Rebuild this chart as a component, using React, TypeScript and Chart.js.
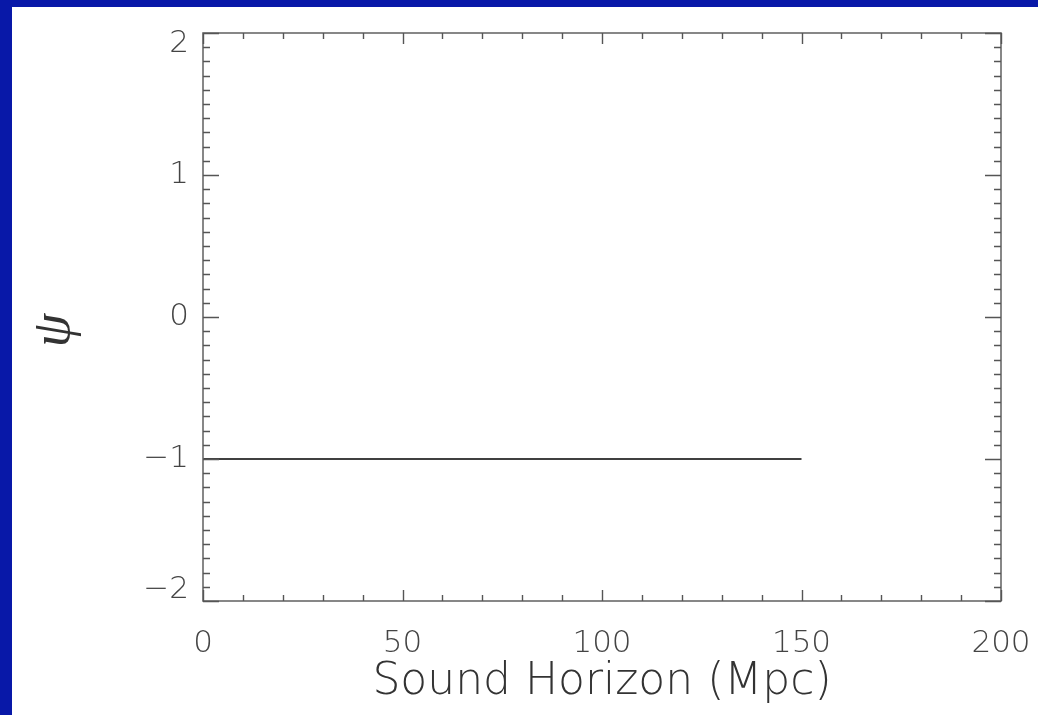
import React, { useEffect, useRef } from "react";
import { Chart, registerables } from "chart.js";

Chart.register(...registerables);

// Data
const soundHorizon: number[] = [0, 150];
const psiValues: number[] = [-1, -1];

// Axis ticks
const xMajorTicks: number[] = [0, 50, 100, 150, 200];
const xMinorStep = 10;
const yMajorTicks: number[] = [-2, -1, 0, 1, 2];
const yMinorStep = 0.1;
const yTickLabels: Record<string, string[] | string> = {
  "2": ["", "2"],
  "1": "1",
  "0": "0",
  "-1": "\u22121",
  "-2": ["\u22122", ""],
};

const xTitle = "Sound Horizon (Mpc)";
const yTitle = "\u03c8\u00a0\u00a0";

const W = 1038;
const H = 715;
const BLUE = "#0818a8";
const FONT = "'DejaVu Sans', sans-serif";

const framePlugin = {
  id: "frame",
  beforeDraw(chart: any) {
    const { ctx } = chart;
    ctx.save();
    ctx.fillStyle = BLUE;
    ctx.fillRect(0, 0, W, H);
    ctx.fillStyle = "#ffffff";
    ctx.fillRect(12, 7, W - 12, H - 7);
    ctx.restore();
  },
  afterDatasetsDraw(chart: any) {
    const { ctx, chartArea, scales } = chart;
    const { left, right, top, bottom } = chartArea;
    const xs = scales.x;
    const ys = scales.y;
    ctx.save();
    ctx.strokeStyle = "#6a6a6a";
    ctx.lineWidth = 1.6;
    ctx.strokeRect(left, top, right - left, bottom - top);
    ctx.strokeStyle = "#555555";
    ctx.lineWidth = 1.4;
    ctx.beginPath();
    for (let v = xs.min; v <= xs.max + 1e-9; v += xMinorStep) {
      const major = xMajorTicks.some((m) => Math.abs(m - v) < 1e-6);
      const len = major ? 11 : 6;
      const px = Math.round(xs.getPixelForValue(v)) + 0.5;
      ctx.moveTo(px, bottom);
      ctx.lineTo(px, bottom - len);
      ctx.moveTo(px, top);
      ctx.lineTo(px, top + len);
    }
    const n = Math.round((ys.max - ys.min) / yMinorStep);
    for (let i = 0; i <= n; i++) {
      const v = ys.min + i * yMinorStep;
      const major = yMajorTicks.some((m) => Math.abs(m - v) < 1e-6);
      const len = major ? 16 : 7;
      const py = Math.round(ys.getPixelForValue(v)) + 0.5;
      ctx.moveTo(left, py);
      ctx.lineTo(left + len, py);
      ctx.moveTo(right, py);
      ctx.lineTo(right - len, py);
    }
    ctx.stroke();
    ctx.restore();
  },
};

export default function App() {
  const ref = useRef<HTMLCanvasElement | null>(null);
  useEffect(() => {
    if (!ref.current) return;
    const chart = new Chart(ref.current, {
      type: "scatter",
      data: {
        datasets: [
          {
            data: soundHorizon.map((x, i) => ({ x, y: psiValues[i] })),
            showLine: true,
            borderColor: "#000000",
            borderWidth: 1.6,
            pointRadius: 0,
            fill: false,
          },
        ],
      },
      options: {
        responsive: false,
        animation: false,
        layout: { padding: { top: 33, right: 37, left: 0, bottom: 0 } },
        plugins: {
          legend: { display: false },
          tooltip: { enabled: false },
        },
        scales: {
          x: {
            type: "linear",
            min: 0,
            max: 200,
            afterBuildTicks: (s: any) => {
              s.ticks = xMajorTicks.map((v) => ({ value: v }));
            },
            afterFit: (s: any) => {
              s.height = 114;
              s.paddingLeft = 0;
              s.paddingRight = 0;
            },
            grid: { display: false },
            border: { display: false },
            ticks: {
              color: "#444444",
              font: { family: FONT, size: 31, weight: "200" as any },
              padding: 16,
              maxRotation: 0,
              autoSkip: false,
            },
            title: {
              display: true,
              text: xTitle,
              color: "#333333",
              font: { family: FONT, size: 44, weight: "200" as any },
              padding: { top: 0, bottom: 6 },
            },
          },
          y: {
            type: "linear",
            min: -2,
            max: 2,
            afterBuildTicks: (s: any) => {
              s.ticks = yMajorTicks.map((v) => ({ value: v }));
            },
            afterFit: (s: any) => {
              s.width = 203;
              s.paddingTop = 0;
              s.paddingBottom = 0;
            },
            grid: { display: false },
            border: { display: false },
            ticks: {
              color: "#444444",
              font: { family: FONT, size: 31, weight: "200" as any, lineHeight: 0.7 },
              padding: 6,
              autoSkip: false,
              callback: (v: any) => yTickLabels[String(v)] ?? String(v),
            },
            title: {
              display: true,
              text: yTitle,
              color: "#333333",
              font: { family: "'Liberation Serif', serif", size: 54, style: "italic", weight: "normal" as any },
              padding: { top: 22, bottom: 0 },
            },
          },
        },
      },
      plugins: [framePlugin],
    });
    return () => chart.destroy();
  }, []);
  return (
    <div style={{ position: "absolute", left: 0, top: 0, width: W, height: H }}>
      <canvas ref={ref} width={W} height={H} style={{ display: "block", width: W, height: H }} />
    </div>
  );
}
